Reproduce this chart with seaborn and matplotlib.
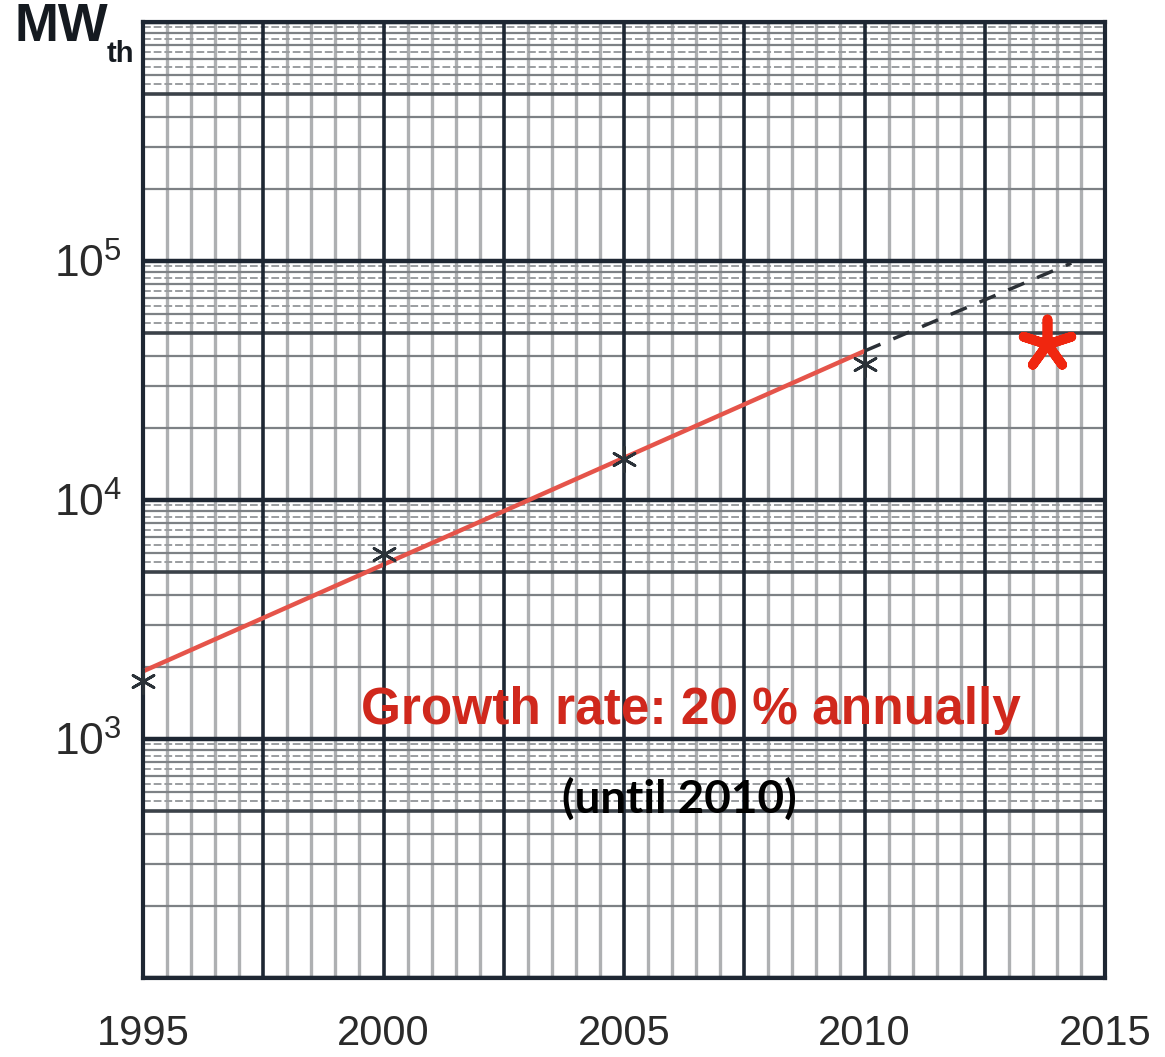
import numpy as np
import matplotlib
matplotlib.use("Agg")
import matplotlib.pyplot as plt
import seaborn as sns
import pandas as pd

# values (MW thermal)
years = [1995, 2000, 2005, 2010]
capacity = [1750, 5950, 14850, 37100]
fit_years = [1995, 2010]
fit_values = [1920, 42000]
proj_years = [2010, 2014.3]
proj_values = [42000, 98000]
star_year = [2013.8]
star_value = [45000]
xtick_years = [1995, 2000, 2005, 2010, 2015]
ytick_values = [1e3, 1e4, 1e5]
ytick_labels = [r"$10^3$", r"$10^4$", r"$10^5$"]

sns.set_style("white")
plt.rcParams["font.family"] = ["Liberation Sans", "DejaVu Sans"]
plt.rcParams["mathtext.fontset"] = "custom"
plt.rcParams["mathtext.rm"] = "Liberation Sans"
plt.rcParams["mathtext.it"] = "Liberation Sans"

fig = plt.figure(figsize=(11.65, 10.57), dpi=100)
ax = fig.add_axes([143 / 1165, 1 - 978 / 1057, (1105 - 143) / 1165, (978 - 22) / 1057])
ax.set_yscale("log")
ax.set_xlim(1995, 2015)
ax.set_ylim(1e2, 1e6)

# graph-paper grid
for x in np.arange(1995, 2015.01, 0.5):
    if abs((x - 1995) % 2.5) < 1e-6:
        ax.axvline(x, color="#1e2733", lw=2.6, zorder=1)
    else:
        ax.axvline(x, color="#aeb0b2", lw=2.4, zorder=0.5)
for dec in [1e2, 1e3, 1e4, 1e5]:
    for m in [2, 3, 4, 6, 7, 8, 9]:
        ax.axhline(dec * m, color="#7d8185", lw=1.6, zorder=0.6)
    for m in [5.5, 6.5, 7.5, 8.5, 9.5]:
        ax.axhline(dec * m, color="#9a9da0", lw=1.4, ls=(0, (4, 1.5)), zorder=0.6)
    ax.axhline(dec * 5, color="#3b4249", lw=2.6, zorder=0.7)
    ax.axhline(dec, color="#1e2733", lw=3.2, zorder=1)
ax.axhline(1e6, color="#1e2733", lw=3.2, zorder=1)

for s in ax.spines.values():
    s.set_color("#1e2733")
    s.set_linewidth(3)

# data
fit = pd.DataFrame({"year": fit_years, "value": fit_values})
sns.lineplot(data=fit, x="year", y="value", color="#e5544a", lw=3.2, ax=ax, zorder=3)
proj = pd.DataFrame({"year": proj_years, "value": proj_values})
sns.lineplot(data=proj, x="year", y="value", color="#2b3036", lw=2.5, ax=ax,
             zorder=3, dashes=False, linestyle=(0, (5, 4)))
pts = pd.DataFrame({"year": years, "value": capacity})
sns.scatterplot(data=pts, x="year", y="value", marker=(6, 2, 0), s=300,
                color="#2a3138", linewidth=2, edgecolor="#2a3138", ax=ax, zorder=4,
                clip_on=False)
star = pd.DataFrame({"year": star_year, "value": star_value})
sns.scatterplot(data=star, x="year", y="value", marker=(5, 2, 0), s=1300,
                color="#f0260f", linewidth=7, edgecolor="#f0260f", ax=ax, zorder=4)

ax.text(2006.4, 1310, "Growth rate: 20 % annually", color="#d0281c",
        fontsize=37, fontweight="bold", ha="center", va="center", zorder=5)
ax.text(2006.15, 561, "(until 2010)", color="black", fontsize=33,
        fontweight="bold", ha="center", va="center", zorder=5,
        family=["Lato", "DejaVu Sans"])

ax.set_xticks(xtick_years)
ax.set_xticklabels([str(y) for y in xtick_years], fontsize=30, color="#2a2a2a")
ax.set_yticks(ytick_values)
ax.set_yticklabels(ytick_labels, fontsize=32, color="#2a2a2a")
ax.yaxis.set_minor_locator(matplotlib.ticker.NullLocator())
ax.tick_params(axis="both", length=0)
ax.tick_params(axis="x", pad=26)
ax.tick_params(axis="y", pad=15)
ax.set_xlabel("")
ax.set_ylabel("")

fig.text(14 / 1165, 1 - 27 / 1057, "MW", fontsize=38, fontweight="bold",
         ha="left", va="center", color="#151a20")
fig.text(107 / 1165, 1 - 54 / 1057, "th", fontsize=21, fontweight="bold",
         ha="left", va="center", color="#151a20")

fig.savefig("out.png", dpi=100)
